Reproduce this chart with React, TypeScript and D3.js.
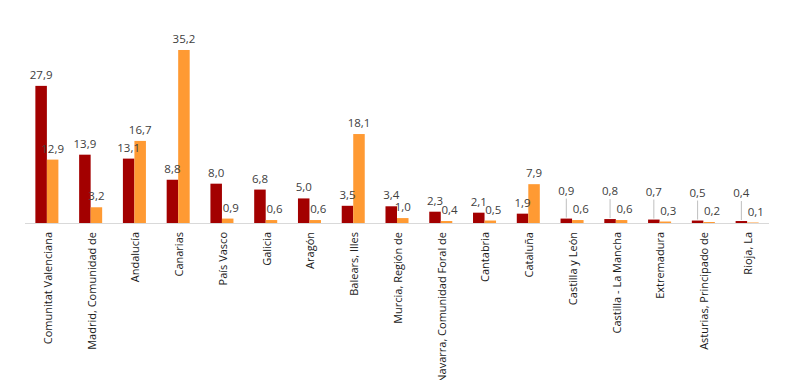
import React from "react";
import * as d3 from "d3";

const categories = [
  "Comunitat Valenciana",
  "Madrid, Comunidad de",
  "Andalucía",
  "Canarias",
  "País Vasco",
  "Galicia",
  "Aragón",
  "Balears, Illes",
  "Murcia, Región de",
  "Navarra, Comunidad Foral de",
  "Cantabria",
  "Cataluña",
  "Castilla y León",
  "Castilla  - La Mancha",
  "Extremadura",
  "Asturias, Principado de",
  "Rioja, La",
];
const seriesA = [27.9, 13.9, 13.1, 8.8, 8.0, 6.8, 5.0, 3.5, 3.4, 2.3, 2.1, 1.9, 0.9, 0.8, 0.7, 0.5, 0.4];
const seriesB = [12.9, 3.2, 16.7, 35.2, 0.9, 0.6, 0.6, 18.1, 1.0, 0.4, 0.5, 7.9, 0.6, 0.6, 0.3, 0.2, 0.1];
const seriesKeys = ["a", "b"];

const W = 800;
const H = 380;
const base = 223;
const colors = ["#A30000", "#FF9A33"];

export default function App() {
  const x0 = d3.scaleBand<string>().domain(categories).range([25, 769]).paddingInner(0.474).paddingOuter(0.237);
  const x1 = d3.scaleBand<string>().domain(seriesKeys).range([0, x0.bandwidth()]).padding(0);
  const y = d3.scaleLinear().domain([0, 40]).range([base, base - 40 * 4.915]);
  const fmt = (v: number) => v.toFixed(1).replace(".", ",");
  const font = "'Open Sans', 'Liberation Sans', sans-serif";

  const items = categories.flatMap((c, i) =>
    [seriesA[i], seriesB[i]].map((v, k) => {
      const bx = (x0(c) as number) + (x1(seriesKeys[k]) as number);
      const bw = x1.bandwidth();
      const top = y(v);
      const cx = bx + bw / 2;
      const leader = k === 0 && v < 1;
      const ly = leader ? top - 24 : top - 7;
      return { key: c + k, k, v, bx, bw, top, cx, leader, ly };
    })
  );

  return (
    <svg width={W} height={H} style={{ position: "absolute", left: 0, top: 0, background: "#fff" }}>
      <line x1={25} x2={769} y1={base + 0.5} y2={base + 0.5} stroke="#d9d9d9" strokeWidth={1} />
      {items.map((d) => (
        <rect key={"r" + d.key} x={d.bx} y={d.top} width={d.bw} height={base - d.top} fill={colors[d.k]} />
      ))}
      {items.map((d) => (
        <g key={"l" + d.key}>
          {d.leader && (
            <line x1={d.cx} x2={d.cx} y1={d.ly + 4} y2={d.top - 1} stroke="#bfbfbf" strokeWidth={1} />
          )}
          <text
            x={d.cx + (d.k === 1 && d.v < 1 ? 3 : 0)}
            y={d.ly}
            textAnchor="middle"
            fontFamily={font}
            fontSize={11.5}
            fill="#404040"
          >
            {fmt(d.v)}
          </text>
        </g>
      ))}
      {categories.map((c) => (
        <text
          key={"c" + c}
          transform={`translate(${(x0(c) as number) + x0.bandwidth() / 2 + 1},${base + 9}) rotate(-90)`}
          textAnchor="end"
          dy="0.35em"
          fontFamily={font}
          fontSize={11}
          fill="#1a1a1a"
        >
          {c}
        </text>
      ))}
    </svg>
  );
}
